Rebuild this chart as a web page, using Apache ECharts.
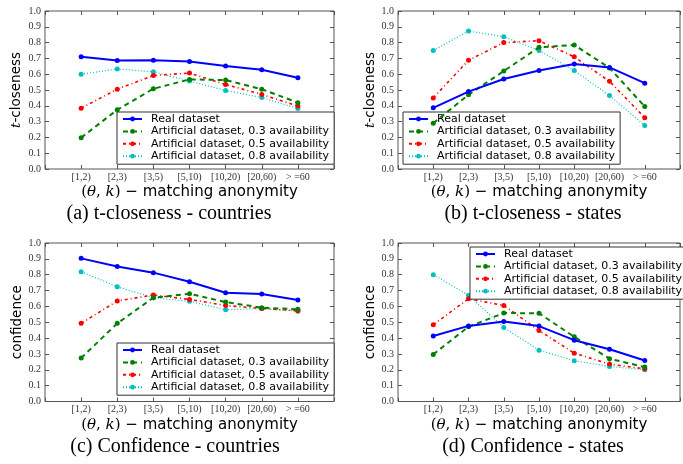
<!DOCTYPE html>
<html><head><meta charset="utf-8">
<script src="https://cdn.jsdelivr.net/npm/echarts@6/dist/echarts.min.js"></script>
<style>html,body{margin:0;padding:0;background:#fff}#c{width:683px;height:464px}</style>
</head><body><div id="c"></div>
<script>
const categories = ['[1,2)', '[2,3)', '[3,5)', '[5,10)', '[10,20)', '[20,60)', '> =60'];
const seriesNames = ['Real dataset', 'Artificial dataset, 0.3 availability', 'Artificial dataset, 0.5 availability', 'Artificial dataset, 0.8 availability'];
const yTicks = [0, 0.1, 0.2, 0.3, 0.4, 0.5, 0.6, 0.7, 0.8, 0.9, 1.0];
const captions = ['(a) t-closeness - countries', '(b) t-closeness - states', '(c) Confidence - countries', '(d) Confidence - states'];

// (a) t-closeness - countries
const aReal = [0.71, 0.687, 0.689, 0.68, 0.652, 0.628, 0.577];
const aA03 = [0.198, 0.375, 0.508, 0.567, 0.563, 0.505, 0.42];
const aA05 = [0.385, 0.505, 0.592, 0.607, 0.535, 0.472, 0.398];
const aA08 = [0.60, 0.633, 0.615, 0.557, 0.497, 0.452, 0.383];
// (b) t-closeness - states
const bReal = [0.387, 0.49, 0.57, 0.623, 0.665, 0.643, 0.543];
const bA03 = [0.29, 0.47, 0.62, 0.77, 0.785, 0.64, 0.395];
const bA05 = [0.45, 0.688, 0.80, 0.812, 0.71, 0.555, 0.325];
const bA08 = [0.75, 0.873, 0.837, 0.75, 0.623, 0.465, 0.275];
// (c) Confidence - countries
const cReal = [0.903, 0.852, 0.813, 0.756, 0.686, 0.678, 0.641];
const cA03 = [0.274, 0.493, 0.655, 0.68, 0.627, 0.592, 0.582];
const cA05 = [0.493, 0.634, 0.672, 0.644, 0.606, 0.587, 0.573];
const cA08 = [0.819, 0.724, 0.655, 0.632, 0.579, 0.586, 0.57];
// (d) Confidence - states
const dReal = [0.413, 0.477, 0.505, 0.476, 0.387, 0.33, 0.259];
const dA03 = [0.297, 0.472, 0.558, 0.557, 0.408, 0.27, 0.217];
const dA05 = [0.484, 0.648, 0.606, 0.448, 0.305, 0.236, 0.206];
const dA08 = [0.80, 0.67, 0.467, 0.324, 0.257, 0.221, 0.2];

const panels = [
  {data: [aReal, aA03, aA05, aA08], yName: 't', yRest: '-closeness', grid: {left: 45, top: 11, width: 289, height: 158}, legend: {left: 117, top: 112}, nameGap: 22, cap: [169, 214]},
  {data: [bReal, bA03, bA05, bA08], yName: 't', yRest: '-closeness', grid: {left: 398, top: 11, width: 290, height: 158}, legend: {left: 403, top: 112}, nameGap: 19, cap: [533, 214]},
  {data: [cReal, cA03, cA05, cA08], yName: '', yRest: 'confidence', grid: {left: 45, top: 243, width: 289, height: 158.5}, legend: {left: 117, top: 343}, nameGap: 20, cap: [175, 447]},
  {data: [dReal, dA03, dA05, dA08], yName: '', yRest: 'confidence', grid: {left: 398, top: 243, width: 290, height: 158.5}, legend: {left: 470, top: 247}, nameGap: 19, cap: [533, 447]}
];

const styles = [
  {color: '#0000ff', type: 'solid', width: 2},
  {color: '#007f00', type: [5, 4], width: 2},
  {color: '#ff0000', type: [3, 3, 1, 3], width: 1.6},
  {color: '#00bfbf', type: [1, 2], width: 1.2}
];

const frame = '#555';
const grids = [], xAxes = [], yAxes = [], series = [], legends = [], graphics = [];
panels.forEach((p, gi) => {
  grids.push(Object.assign({show: true, borderColor: frame, borderWidth: 1, containLabel: false}, p.grid));
  xAxes.push({
    type: 'value', gridIndex: gi, min: -1, max: 7, interval: 1, position: 'bottom',
    axisLine: {show: false, onZero: false}, splitLine: {show: false},
    axisTick: {inside: true, length: 4, lineStyle: {color: frame}},
    axisLabel: {margin: 3, fontFamily: 'Liberation Serif', fontSize: 10, color: '#333',
      formatter: v => (v >= 0 && v < categories.length) ? categories[v] : ''},
    name: '{m|(}{i|θ}{m|, }{i|k}{m|)} − matching anonymity', nameLocation: 'middle', nameGap: 16,
    nameTextStyle: {fontFamily: 'DejaVu Sans', fontSize: 15, color: '#000',
      rich: {m: {fontFamily: 'DejaVu Serif', fontSize: 15, color: '#000'}, i: {fontFamily: 'DejaVu Serif', fontStyle: 'italic', fontSize: 15, color: '#000'}}}
  });
  xAxes.push({
    type: 'value', gridIndex: gi, min: -1, max: 7, interval: 1, position: 'top',
    axisLine: {show: false, onZero: false}, splitLine: {show: false}, axisLabel: {show: false},
    axisTick: {inside: true, length: 4, lineStyle: {color: frame}}
  });
  yAxes.push({
    type: 'value', gridIndex: gi, min: 0, max: 1, interval: 0.1, position: 'left',
    axisLine: {show: false, onZero: false}, splitLine: {show: false},
    axisTick: {inside: true, length: 4, lineStyle: {color: frame}},
    axisLabel: {margin: 4, fontFamily: 'Liberation Serif', fontSize: 10, color: '#333',
      formatter: v => yTicks.some(t => Math.abs(t - v) < 1e-9) ? v.toFixed(1) : ''},
    name: p.yName ? '{i|' + p.yName + '}' + p.yRest : p.yRest,
    nameLocation: 'middle', nameGap: p.nameGap,
    nameTextStyle: {fontFamily: 'DejaVu Sans', fontSize: 13.5, color: '#000',
      rich: {i: {fontFamily: 'DejaVu Serif', fontStyle: 'italic', fontSize: 13.5, color: '#000'}}}
  });
  yAxes.push({
    type: 'value', gridIndex: gi, min: 0, max: 1, interval: 0.1, position: 'right',
    axisLine: {show: false, onZero: false}, splitLine: {show: false}, axisLabel: {show: false},
    axisTick: {inside: true, length: 4, lineStyle: {color: frame}}
  });
  p.data.forEach((vals, si) => {
    const st = styles[si];
    series.push({
      type: 'line', name: seriesNames[si], xAxisIndex: gi * 2, yAxisIndex: gi * 2,
      data: vals.map((v, i) => [i, v]),
      symbol: 'circle', symbolSize: 5, showSymbol: true,
      lineStyle: {color: st.color, type: st.type, width: st.width},
      itemStyle: {color: st.color, borderWidth: 0},
      z: 2 + (3 - si)
    });
  });
  legends.push({
    left: p.legend.left, top: p.legend.top, orient: 'vertical',
    data: seriesNames, selectedMode: false,
    backgroundColor: '#fff', borderColor: '#333', borderWidth: 1,
    padding: [1, 5, 2, 5], itemGap: 0.4, itemWidth: 19, itemHeight: 6,
    textStyle: {fontFamily: 'DejaVu Sans', fontSize: 11, lineHeight: 12, color: '#000', padding: [0, 0, 0, 4]}
  });
  graphics.push({
    type: 'text', x: p.cap[0], y: p.cap[1],
    style: {text: captions[gi], fontFamily: 'Liberation Serif', fontSize: 20, fill: '#000', textAlign: 'center', textVerticalAlign: 'middle'}
  });
});

const chart = echarts.init(document.getElementById('c'));
chart.setOption({
  animation: false,
  backgroundColor: '#fff',
  grid: grids, xAxis: xAxes, yAxis: yAxes, series: series, legend: legends, graphic: graphics
});
</script></body></html>
